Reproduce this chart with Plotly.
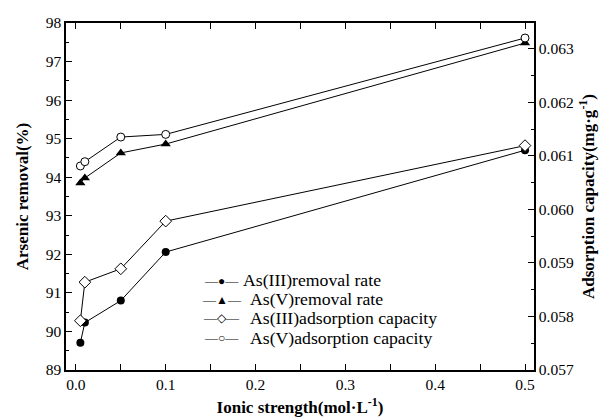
import plotly.graph_objects as go

ionic = [0.005, 0.01, 0.05, 0.1, 0.5]
as3_removal = [89.71, 90.23, 90.80, 92.06, 94.70]
as5_removal = [93.85, 93.98, 94.63, 94.86, 97.48]
as3_capacity = [0.05792, 0.05864, 0.05889, 0.05978, 0.06119]
as5_capacity = [0.06081, 0.06089, 0.06135, 0.06140, 0.06320]
series_names = ["As(III)removal rate", "As(V)removal rate",
                "As(III)adsorption capacity", "As(V)adsorption capacity"]
legend_glyphs = ["●", "▲", "◇", "○"]

FONT = "Liberation Serif"
fig = go.Figure()
line = dict(color="black", width=1)
fig.add_trace(go.Scatter(x=ionic, y=as3_removal, mode="lines+markers", name=series_names[0],
                         line=line, marker=dict(symbol="circle", size=8, color="black")))
fig.add_trace(go.Scatter(x=ionic, y=as5_removal, mode="lines+markers", name=series_names[1],
                         line=line, marker=dict(symbol="triangle-up", size=9, color="black")))
fig.add_trace(go.Scatter(x=ionic, y=as3_capacity, mode="lines+markers", name=series_names[2],
                         yaxis="y2", line=line,
                         marker=dict(symbol="diamond", size=9, color="white", line=dict(color="black", width=1))))
fig.add_trace(go.Scatter(x=ionic, y=as5_capacity, mode="lines+markers", name=series_names[3],
                         yaxis="y2", line=line,
                         marker=dict(symbol="circle", size=8, color="white", line=dict(color="black", width=1))))

# compact legend drawn as text rows (reference legend is tighter than plotly's)
row_y = [0.259, 0.204, 0.150, 0.093]
text_x = [0.3739, 0.3889, 0.3889, 0.3889]
for i, (name, g) in enumerate(zip(series_names, legend_glyphs)):
    fig.add_annotation(
        xref="paper", yref="paper", x=0.3333, y=row_y[i], xanchor="center", yanchor="middle",
        showarrow=False, text=f"—<span style='font-size:12px'>{g}</span>—",
        font=dict(family=FONT, size=13, color="black"))
    fig.add_annotation(
        xref="paper", yref="paper", x=text_x[i], y=row_y[i], xanchor="left", yanchor="middle",
        showarrow=False, align="left", text=name,
        font=dict(family=FONT, size=17.7, color="black"))

axcommon = dict(showgrid=False, zeroline=False, showline=True, linecolor="black", linewidth=1.5,
                ticks="inside", ticklen=6, tickwidth=1, tickcolor="black", automargin=False,
                tickfont=dict(family=FONT, size=15.5, color="black"))

fig.update_layout(
    width=601, height=417,
    margin=dict(l=66, r=67, t=23, b=47),
    paper_bgcolor="white", plot_bgcolor="white",
    font=dict(family=FONT, color="black"),
    showlegend=False,
    xaxis=dict(axcommon, range=[-0.011, 0.51], dtick=0.1, tick0=0, tickformat=".1f", mirror="allticks",
               minor=dict(dtick=0.05, tick0=0, ticks="inside", ticklen=3, tickcolor="black"),
               title=dict(text="Ionic strength(mol·L<sup>-1</sup>)", standoff=9,
                          font=dict(family=FONT, size=17, color="black", weight="bold"))),
    yaxis=dict(axcommon, range=[89, 98], dtick=1, mirror=False,
               minor=dict(dtick=0.5, ticks="inside", ticklen=3, tickcolor="black"),
               title=dict(text="Arsenic removal(%)", standoff=13,
                          font=dict(family=FONT, size=17, color="black", weight="bold"))),
    yaxis2=dict(axcommon, overlaying="y", side="right", range=[0.057, 0.06348], dtick=0.001,
                tick0=0.057, tickformat=".3f",
                minor=dict(dtick=0.0005, tick0=0.057, ticks="inside", ticklen=3, tickcolor="black"),
                title=dict(text="Adsorption capacity(mg·g<sup>-1</sup>)", standoff=9,
                           font=dict(family=FONT, size=17, color="black", weight="bold"))),
)
fig.write_html("out.html")
